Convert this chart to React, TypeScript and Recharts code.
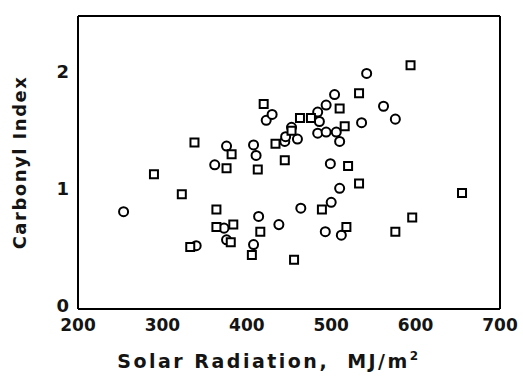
import React from 'react'
import { ScatterChart, Scatter, XAxis, YAxis, ZAxis, ReferenceLine, Label } from 'recharts'

// circles
const circleRadiation: number[] = [254, 340, 362, 376, 373, 376, 408, 411, 423, 430, 414, 408, 445, 446, 453, 460, 438, 464, 484, 486, 484, 494, 494, 504, 506, 510, 499, 500, 493, 510, 512, 536, 542, 562, 576]
const circleIndex: number[] = [0.83, 0.54, 1.23, 1.39, 0.69, 0.59, 1.40, 1.31, 1.61, 1.66, 0.79, 0.55, 1.43, 1.47, 1.55, 1.45, 0.72, 0.86, 1.68, 1.60, 1.50, 1.74, 1.51, 1.83, 1.51, 1.43, 1.24, 0.91, 0.66, 1.03, 0.63, 1.59, 2.01, 1.73, 1.62]

// squares
const squareRadiation: number[] = [290, 323, 338, 333, 376, 382, 364, 364, 384, 381, 413, 420, 416, 406, 434, 453, 445, 456, 463, 476, 510, 516, 489, 520, 518, 533, 533, 576, 594, 596, 655]
const squareIndex: number[] = [1.15, 0.98, 1.42, 0.53, 1.20, 1.32, 0.85, 0.70, 0.72, 0.57, 1.19, 1.75, 0.66, 0.46, 1.41, 1.52, 1.27, 0.42, 1.63, 1.63, 1.71, 1.56, 0.85, 1.22, 0.70, 1.07, 1.84, 0.66, 2.08, 0.78, 0.99]

const xTicks: number[] = [200, 300, 400, 500, 600, 700]
const yTicks: number[] = [0, 1, 2]

const circles = circleRadiation.map((x, i) => ({ x, y: circleIndex[i] }))
const squares = squareRadiation.map((x, i) => ({ x, y: squareIndex[i] }))

const FONT = '"DejaVu Sans", sans-serif'
const INK = '#141414'

const XTitle = (props: any) => {
    const vb = props.viewBox
    const cx = vb.x + vb.width / 2 - 20
    return (
        <text x={cx} y={368} textAnchor="middle" fontFamily={FONT} fontWeight="bold" fontSize={19} fill={INK} letterSpacing={2.5}>
            <tspan>Solar Radiation,</tspan>
            <tspan dx={18}>MJ/m</tspan>
            <tspan dy={-8} fontSize={12}>2</tspan>
        </text>
    )
}

const YTitle = (props: any) => {
    const vb = props.viewBox
    const cy = vb.y + vb.height / 2
    return (
        <text x={26} y={cy} transform={`rotate(-90, 26, ${cy})`} textAnchor="middle" fontFamily={FONT} fontWeight="bold" fontSize={18} fill={INK} letterSpacing={1.5}>
            Carbonyl Index
        </text>
    )
}

// y tick labels sit a little above their value, like the original
const YTick = (props: any) => {
    const { x, y, payload } = props
    return (
        <text x={x} y={y - 3} dy="0.355em" textAnchor="end" fontFamily={FONT} fontWeight="bold" fontSize={18} fill={INK}>
            {payload.value}
        </text>
    )
}

const App: React.FunctionComponent = () => {
    return (
        <div style={{ position: 'absolute', left: 0, top: 0, background: '#fff' }}>
            <ScatterChart width={523} height={376} margin={{ top: 16, right: 23, left: 0, bottom: 0 }}>
                <XAxis
                    type="number"
                    dataKey="x"
                    domain={[200, 700]}
                    ticks={xTicks}
                    height={67}
                    axisLine={{ stroke: '#000', strokeWidth: 2 }}
                    tickLine={false}
                    tickSize={5}
                    tickMargin={5}
                    tick={{ fontFamily: FONT, fontWeight: 'bold', fontSize: 17, fill: INK }}
                >
                    <Label content={XTitle} />
                </XAxis>
                <YAxis
                    type="number"
                    dataKey="y"
                    domain={[0, 2.5]}
                    ticks={yTicks}
                    width={78}
                    axisLine={{ stroke: '#000', strokeWidth: 2 }}
                    tickLine={false}
                    tickSize={4}
                    tickMargin={5}
                    tick={YTick}
                >
                    <Label content={YTitle} />
                </YAxis>
                <ZAxis range={[48, 48]} />
                <ReferenceLine y={2.5} stroke="#000" strokeWidth={2} />
                <ReferenceLine x={700} stroke="#000" strokeWidth={2} />
                <Scatter data={circles} shape="circle" fill="#fff" stroke="#000" strokeWidth={2} isAnimationActive={false} />
                <Scatter data={squares} shape="square" fill="#fff" stroke="#000" strokeWidth={2} isAnimationActive={false} />
            </ScatterChart>
        </div>
    )
}

export default App
